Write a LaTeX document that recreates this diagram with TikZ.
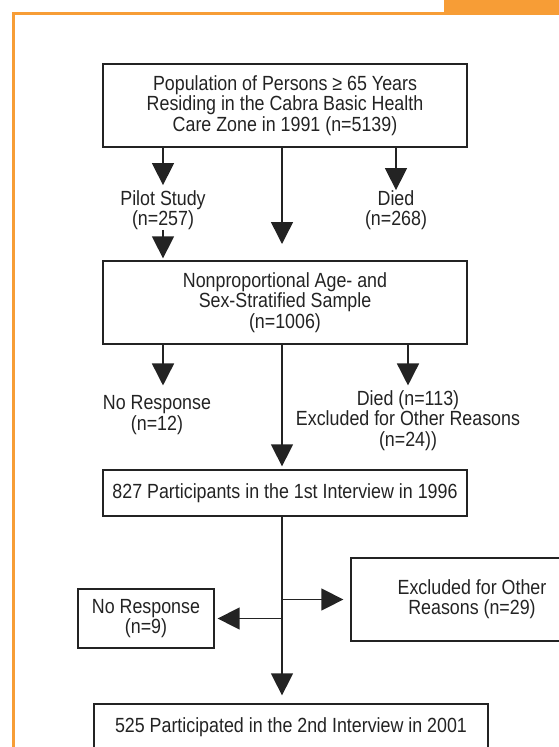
\documentclass[tikz,border=0pt]{standalone}
\usepackage{fontspec}
\setmainfont{Liberation Sans}[FakeStretch=0.87]
\usetikzlibrary{arrows.meta}
\definecolor{frameorange}{RGB}{247,157,54}
\definecolor{ink}{RGB}{35,35,35}
\begin{document}
\begin{tikzpicture}[x=1pt,y=-1pt,
  every node/.style={font=\fontsize{20.5}{20.3}\selectfont, text=ink},
  box/.style={draw=ink, line width=1.3pt, align=center, inner sep=0pt},
  lbl/.style={align=center, inner sep=0pt},
  arr/.style={draw=ink, line width=1.5pt, -{Triangle[length=22pt,width=22pt]}},
]
\useasboundingbox (0,0) rectangle (559,747);
\clip (0,0) rectangle (559,747);
% orange frame
\fill[frameorange] (444,0) rectangle (559,14.5);
\draw[frameorange, line width=3pt] (13.5,750) -- (13.5,13) -- (560,13);

% nodes
\node[box, minimum width=364pt, minimum height=83pt] (b1) at (285,105.5)
  {Population of Persons ≥ 65 Years\\Residing in the Cabra Basic Health\\Care Zone in 1991 (n=5139)};
\node[lbl] (pilot) at (163,210) {Pilot Study\\(n=257)};
\node[lbl] (died1) at (396,210) {Died\\(n=268)};
\coordinate (spine) at (282,0);
\coordinate (m1) at (282,244);
\node[box, minimum width=364pt, minimum height=83pt] (b2) at (285,302.5)
  {Nonproportional Age- and\\Sex-Stratified Sample\\(n=1006)};
\node[lbl] (nr12) at (157,415) {No Response\\(n=12)};
\node[lbl] (died2) at (408,420.5) {Died (n=113)\\Excluded for Other Reasons\\(n=24))};
\node[box, minimum width=364pt, minimum height=46pt] (b3) at (285,493)
  {827 Participants in the 1st Interview in 1996};
\node[box, minimum width=136pt, minimum height=59pt] (nr9) at (146,618.5)
  {No Response\\(n=9)};
\node[box, minimum width=242pt, minimum height=83pt] (ex29) at (472,599.5)
  {Excluded for Other\\Reasons (n=29)};
\node[box, minimum width=394pt, minimum height=46pt] (b4) at (291,727)
  {525 Participated in the 2nd Interview in 2001};

% connectors
\draw[arr, shorten >=5pt] (pilot |- b1.south) -- (pilot.north);
\draw[arr, shorten >=2pt] (pilot.south) -- (pilot |- b2.north);
\draw[arr] (spine |- b1.south) -- (m1);
\draw[arr] (died1 |- b1.south) -- (died1.north);
\draw[arr, shorten >=10pt] (pilot |- b2.south) -- (pilot |- nr12.north);
\draw[arr, shorten >=5pt] (died2 |- b2.south) -- (died2.north);
\draw[arr, shorten >=3pt] (spine |- b2.south) -- (spine |- b3.north);
\draw[arr, shorten >=8pt] (spine |- b3.south) -- (spine |- b4.north);
\draw[arr, shorten >=7pt] (spine |- ex29.west) -- (ex29.west);
\draw[arr, shorten >=3pt] (spine |- nr9.east) -- (nr9.east);
\end{tikzpicture}
\end{document}
